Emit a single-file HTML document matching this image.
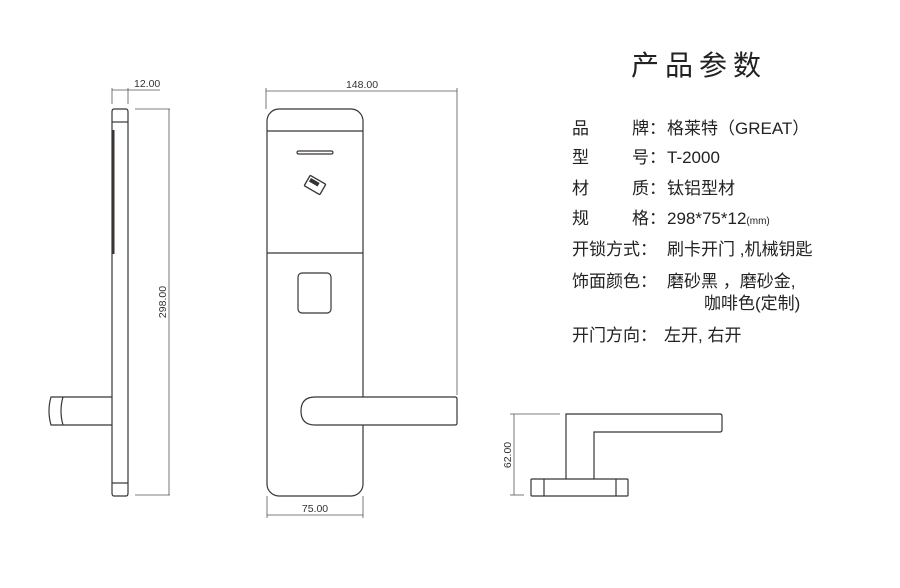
<!DOCTYPE html>
<html><head><meta charset="utf-8"><style>
body{margin:0;background:#fff}
svg{display:block}
.t{font-family:"Liberation Sans","Noto Sans CJK SC",sans-serif;fill:#222}
.d{font-family:"Liberation Sans",sans-serif;font-size:10.5px;fill:#333}
</style></head><body>
<svg width="900" height="588" viewBox="0 0 900 588" xmlns="http://www.w3.org/2000/svg">
<g fill="none" stroke="#3a3533" stroke-width="1.2">
<path d="M114 109 H126 Q128 109 128 112 V493 Q128 496 126 496 H114 Q112 496 112 493 V112 Q112 109 114 109 Z"/>
<line x1="112" y1="122" x2="128" y2="122"/>
<line x1="112" y1="483" x2="128" y2="483"/>
<line x1="113.5" y1="130" x2="113.5" y2="254" stroke-width="2"/>
<path d="M112 397 H63 M112 425 H63 M63 397 Q59 411 63 425 M63 397 H51 Q47 411 51 425 H63"/>
<g stroke-width="0.8" stroke="#555">
<line x1="112" y1="88" x2="112" y2="104"/><line x1="128" y1="88" x2="128" y2="104"/>
<line x1="112" y1="90" x2="160" y2="90"/>
<line x1="135" y1="109" x2="170" y2="109"/><line x1="135" y1="495" x2="170" y2="495"/>
<line x1="169" y1="109" x2="169" y2="495"/>
</g>
<rect x="267" y="109" width="96" height="387" rx="12"/>
<line x1="267" y1="131" x2="363" y2="131"/>
<line x1="267" y1="253" x2="363" y2="253"/>
<rect x="297" y="151" width="36" height="3" rx="1.5"/>
<rect x="298" y="273" width="33" height="40" rx="4"/>
<path d="M363 397 H455 Q457 397 457 399 V423 Q457 425 455 425 H315 Q301 425 301 411 Q301 397 315 397 H363" fill="#fff"/>
<g transform="translate(315 185) rotate(30)"><rect x="-9" y="-6" width="18" height="12" rx="1" fill="#fff" stroke-width="1.4"/><rect x="-7" y="-4" width="10" height="4" fill="#333" stroke="none"/></g>
<g stroke-width="0.8" stroke="#555">
<line x1="266" y1="91" x2="457" y2="91"/>
<line x1="266" y1="88" x2="266" y2="109"/><line x1="457" y1="88" x2="457" y2="395"/>
<line x1="267" y1="515" x2="363" y2="515"/>
<line x1="267" y1="496" x2="267" y2="518"/><line x1="363" y1="496" x2="363" y2="518"/>
</g>
<path d="M566 479 V414 H720 Q722 414 722 416 V430 Q722 432 720 432 H594 V479"/>
<rect x="531" y="479" width="97" height="17" rx="1"/>
<line x1="544" y1="479" x2="544" y2="496"/><line x1="616" y1="479" x2="616" y2="496"/>
<g stroke-width="0.8" stroke="#555">
<line x1="514" y1="414" x2="514" y2="495"/>
<line x1="510" y1="414" x2="560" y2="414"/><line x1="510" y1="495" x2="524" y2="495"/>
</g>
</g>
<text class="d" x="134" y="87">12.00</text>
<text class="d" transform="translate(166 302) rotate(-90)" text-anchor="middle">298.00</text>
<text class="d" x="362" y="88" text-anchor="middle">148.00</text>
<text class="d" x="315" y="512" text-anchor="middle">75.00</text>
<text class="d" transform="translate(511 455) rotate(-90)" text-anchor="middle">62.00</text>
<text class="t" x="631" y="75" font-size="28" letter-spacing="6">产品参数</text>
<g class="t" font-size="17">
<text x="572" y="134">品</text><text x="632" y="134">牌：</text><text x="667" y="134">格莱特（GREAT）</text>
<text x="572" y="163">型</text><text x="632" y="163">号：</text><text x="667" y="163">T-2000</text>
<text x="572" y="194">材</text><text x="632" y="194">质：</text><text x="667" y="194">钛铝型材</text>
<text x="572" y="224">规</text><text x="632" y="224">格：</text><text x="667" y="224">298*75*12<tspan font-size="10">(mm)</tspan></text>
<text x="572" y="255">开锁方式：</text><text x="667" y="255">刷卡开门 ,机械钥匙</text>
<text x="572" y="287">饰面颜色：</text><text x="667" y="287">磨砂黑 ，磨砂金,</text>
<text x="704" y="309">咖啡色(定制)</text>
<text x="572" y="341">开门方向：</text><text x="664" y="341">左开, 右开</text>
</g>
</svg>
</body></html>
